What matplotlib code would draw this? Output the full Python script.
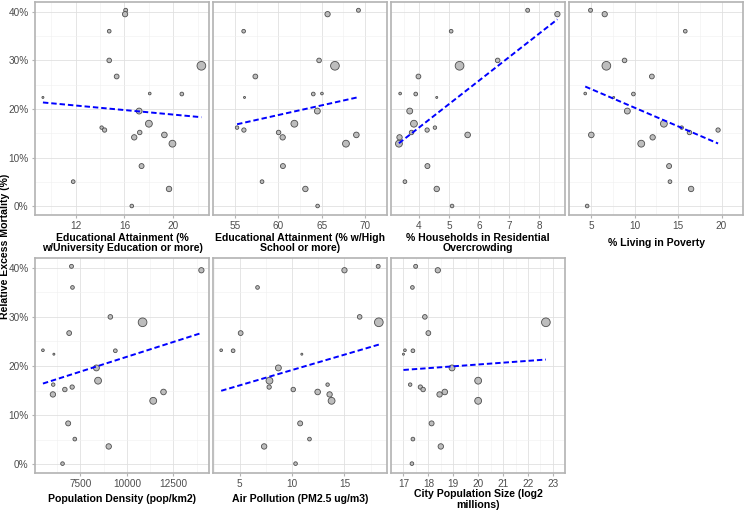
import numpy as np
import matplotlib
matplotlib.use("Agg")
from matplotlib import pyplot as plt

plt.rcParams['font.family'] = ['Liberation Sans', 'DejaVu Sans']

# one value per city, same order in every list
mortality = [40.3, 39.5, 36.0, 30.0, 28.9, 26.7, 23.2, 23.1, 22.4, 19.6, 17.0,
             16.2, 15.7, 15.2, 14.7, 14.2, 12.9, 8.3, 5.1, 3.6, 0.1]
univ_edu = [16.1, 16.05, 14.75, 14.75, 22.3, 15.36, 18.07, 20.7, 9.32, 17.2, 18.0,
            14.13, 14.37, 17.25, 19.27, 16.8, 19.93, 17.4, 11.8, 19.65, 16.6]
high_school = [69.24, 65.68, 56.0, 64.7, 66.53, 57.35, 65.03, 64.03, 56.1, 64.5, 61.85,
               55.24, 56.03, 60.03, 69.0, 60.5, 67.8, 60.53, 58.12, 63.12, 64.53]
overcrowding = [7.62, 8.61, 5.07, 6.62, 5.35, 3.98, 3.37, 3.89, 4.59, 3.69, 3.83,
                4.53, 4.27, 3.75, 5.62, 3.35, 3.33, 4.28, 3.53, 4.59, 5.1]
poverty = [4.94, 6.57, 15.83, 8.85, 6.76, 11.99, 4.33, 9.87, 7.6, 9.17, 13.37,
           15.42, 19.6, 16.31, 5.03, 12.08, 10.77, 13.97, 14.07, 16.5, 4.55]
density = [7018, 14000, 7071, 9107, 10839, 6893, 5482, 9375, 6071, 8357, 8446,
           6036, 7054, 6661, 11964, 6018, 11411, 6839, 7196, 9018, 6536]
pm25 = [18.22, 15.0, 6.70, 16.45, 18.28, 5.09, 3.23, 4.37, 10.93, 8.69, 7.84,
        13.39, 7.81, 10.11, 12.44, 13.58, 13.77, 10.77, 11.66, 7.33, 10.33]
log2_pop = [17.49, 18.38, 17.36, 17.86, 22.72, 18.0, 17.06, 17.38, 17.0, 18.95, 20.0,
            17.27, 17.68, 17.79, 18.66, 18.45, 20.0, 18.13, 17.38, 18.5, 17.34]

labels = ["Educational Attainment (%\nw/University Education or more)",
          "Educational Attainment (% w/High\nSchool or more)",
          "% Households in Residential\nOvercrowding",
          "% Living in Poverty",
          "Population Density (pop/km2)",
          "Air Pollution (PM2.5 ug/m3)",
          "City Population Size (log2\nmillions)"]
xvars = [univ_edu, high_school, overcrowding, poverty, density, pm25, log2_pop]
xticks = [[12, 16, 20], [55, 60, 65, 70], [4, 5, 6, 7, 8], [5, 10, 15, 20],
          [7500, 10000, 12500], [5, 10, 15], [17, 18, 19, 20, 21, 22, 23]]

W, H = 746, 512
fig = plt.figure(figsize=(W / 100, H / 100), dpi=100)

# marker size from city population (sqrt-area scale like ggplot)
lp = np.array(log2_pop)
diam_px = 2.0 + 6.7 * np.sqrt((lp - lp.min()) / (lp.max() - lp.min()))
sizes = (diam_px * 0.72) ** 2

col_x = [35, 213.3, 391, 569.3]
col_w = [174.3, 173.4, 174.3, 174]
rows = [(2, 215, 243), (258, 472.7, 499.5)]

y = np.array(mortality)
for i, (xv, lab, tk) in enumerate(zip(xvars, labels, xticks)):
    r, c = divmod(i, 4)
    top, bot, lab_y = rows[r]
    ax = fig.add_axes([col_x[c] / W, 1 - bot / H, col_w[c] / W, (bot - top) / H])
    x = np.array(xv, dtype=float)

    ax.scatter(x, y, s=sizes, facecolor='#bdbdbd', edgecolor='#4d4d4d',
               linewidth=0.6, zorder=3)
    b, a = np.polyfit(x, y, 1)
    xs = np.array([x.min(), x.max()])
    ax.plot(xs, a + b * xs, color='#0000ff', lw=1.4, ls=(0, (2.8, 1.5)), zorder=4)

    ax.margins(0.05)
    ax.set_ylim(-1.75, 42.0)
    ax.set_xticks(tk)
    dx = tk[1] - tk[0]
    minor = np.arange(tk[0] - dx / 2, tk[-1] + dx, dx / 2)
    ax.set_xticks(minor, minor=True)
    ax.set_yticks([0, 10, 20, 30, 40])
    ax.set_yticks([5, 15, 25, 35], minor=True)
    ax.grid(which='major', color='#e0e0e0', lw=0.6)
    ax.grid(which='minor', color='#f0f0f0', lw=0.4)
    ax.set_axisbelow(True)
    for s in ax.spines.values():
        s.set_color('#b3b3b3')
        s.set_linewidth(1.2)
    ax.tick_params(which='major', length=2.5, color='#b3b3b3', labelsize=7.2,
                   labelcolor='#4d4d4d', pad=2)
    ax.tick_params(which='minor', length=0)
    if c == 0:
        ax.set_yticklabels(['0%', '10%', '20%', '30%', '40%'])
    else:
        ax.tick_params(axis='y', which='both', left=False, labelleft=False)

    ax.set_xlabel(lab, fontsize=7.6, fontweight='bold', linespacing=1.1)
    ax.xaxis.label.set_verticalalignment('center')
    ax.xaxis.set_label_coords(0.5, -(lab_y - bot) / (bot - top))

fig.text(5.5 / W, 1 - 246 / H, "Relative Excess Mortality (%)", rotation=90,
         fontsize=7.6, fontweight='bold', ha='center', va='center')

fig.savefig("out.png", dpi=100)
